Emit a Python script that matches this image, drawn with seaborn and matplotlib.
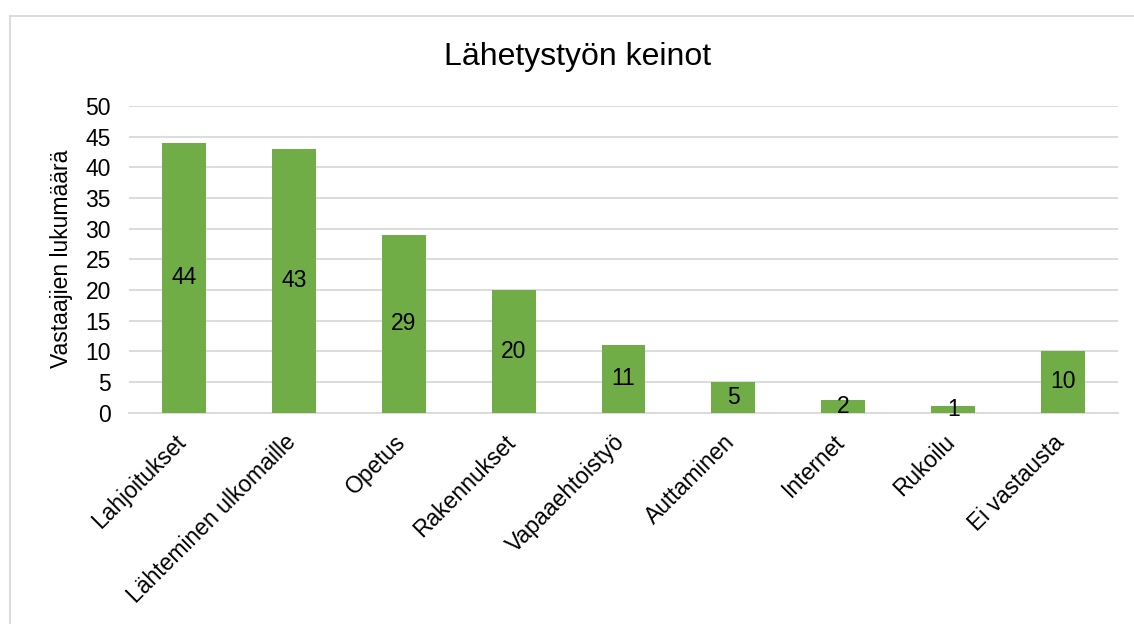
import matplotlib
matplotlib.use("Agg")
import matplotlib.pyplot as plt
from matplotlib.patches import Rectangle
from matplotlib.transforms import ScaledTranslation
import seaborn as sns
import pandas as pd

categories = ["Lahjoitukset", "Lähteminen ulkomaille", "Opetus", "Rakennukset",
              "Vapaaehtoistyö", "Auttaminen", "Internet", "Rukoilu", "Ei vastausta"]
values = [44, 43, 29, 20, 11, 5, 2, 1, 10]
y_ticks = [0, 5, 10, 15, 20, 25, 30, 35, 40, 45, 50]

title = "Lähetystyön keinot"
y_label = "Vastaajien lukumäärä"

sns.set_theme(style="white")
plt.rcParams['font.family'] = ['Liberation Sans', 'DejaVu Sans']

W, H, DPI = 1134, 624, 100
FS = 16.5
fig = plt.figure(figsize=(W / DPI, H / DPI), dpi=DPI)
fig.patch.set_facecolor("white")

# chart border
fig.patches.append(Rectangle((9.5 / W, -0.1), 1.2, 1 - 16.5 / H + 0.1,
                             transform=fig.transFigure, fill=False,
                             edgecolor="#D9D9D9", linewidth=1.3))

left, right, top, bottom = 129, 1118, 106, 412.5
ax = fig.add_axes([left / W, 1 - bottom / H, (right - left) / W, (bottom - top) / H])

df = pd.DataFrame({"cat": categories, "val": values})
sns.barplot(data=df, x="cat", y="val", color="#70AD47", saturation=1, width=0.4,
            linewidth=0, ax=ax, zorder=3)

ax.set_ylim(0, 50)
ax.set_yticks(y_ticks)
ax.set_xlim(-0.5, len(categories) - 0.5)
ax.grid(axis="y", color="#D9D9D9", linewidth=1.3, zorder=0)
ax.set_axisbelow(True)
for s in ["top", "right", "left"]:
    ax.spines[s].set_visible(False)
ax.spines["bottom"].set_color("#D9D9D9")
ax.spines["bottom"].set_linewidth(1.3)

ax.tick_params(axis="y", length=0, pad=13, labelsize=FS, labelcolor="#000000")
ax.tick_params(axis="x", length=0, pad=8, labelsize=FS, labelcolor="#000000")
ax.set_xticks(range(len(categories)))
ax.set_xticklabels(categories, rotation=45, ha="right", va="top", rotation_mode="anchor")
shift = ScaledTranslation(-10 / DPI, -7 / DPI, fig.dpi_scale_trans)
for lab in ax.get_xticklabels():
    lab.set_transform(lab.get_transform() + shift)

ax.set_xlabel("")
ax.set_ylabel(y_label, fontsize=FS, color="#000000", labelpad=9)

down = ScaledTranslation(0, -3 / DPI, fig.dpi_scale_trans)
for c in ax.containers:
    texts = ax.bar_label(c, labels=[str(v) for v in values], label_type="center",
                         fontsize=FS, color="#000000")
    for t in texts:
        t.set_transform(t.get_transform() + down)

fig.text(578 / W, 1 - 57 / H, title, ha="center", va="center", fontsize=23, color="#000000")

fig.savefig("out.png", dpi=DPI, facecolor="white")
